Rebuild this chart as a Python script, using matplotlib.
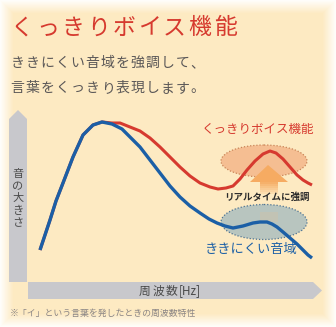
import numpy as np
import matplotlib
matplotlib.use("Agg")
import matplotlib.pyplot as plt
from matplotlib.patches import Polygon, Ellipse, Rectangle

plt.rcParams['font.family'] = ['Noto Sans CJK JP', 'DejaVu Sans']

# curve data (pixel space of the 336x327 picture, y grows downward)
blue_x = [40, 45, 50, 56, 63, 73, 83, 93, 102, 112, 122, 130, 140, 150, 160, 170,
          180, 190, 200, 209, 217, 225, 233, 243, 253, 260, 267, 272, 277, 283,
          290, 297, 303, 308, 312]
blue_y = [250, 235, 220, 201, 183, 157, 135, 125, 122, 124, 129, 137, 147, 160, 173, 186,
          197, 206, 213, 219, 223, 226, 228, 226, 223, 222, 222, 224, 227, 232,
          238, 244, 250, 255, 258]
red_x = [40, 45, 50, 56, 63, 73, 83, 93, 102, 112, 120, 130, 140, 150, 160, 170,
         180, 190, 200, 210, 218, 226, 233, 240, 247, 255, 263, 270, 276, 283,
         290, 297, 303, 308, 312]
red_y = [250, 235, 220, 201, 183, 157, 135, 125, 122, 123, 123, 127, 131, 138, 147, 157,
         167, 176, 183, 187, 189, 188, 186, 179, 170, 161, 154, 151, 153, 159,
         167, 175, 180, 183, 185]

title = "くっきりボイス機能"
subtitle = ["ききにくい音域を強調して、", "言葉をくっきり表現します。"]
ylabel = "音の大きさ"
xlabel = "周波数"
xunit = "[Hz]"
red_label = "くっきりボイス機能"
blue_label = "ききにくい音域"
arrow_label = "リアルタイムに強調"
note = "※「イ」という言葉を発したときの周波数特性"

W, H = 336, 327
fig = plt.figure(figsize=(W / 100, H / 100), dpi=100)
ax = fig.add_axes([0, 0, 1, 1])
ax.set_xlim(0, W)
ax.set_ylim(H, 0)
ax.axis("off")


def spaced(x0, y, s, pitch, **kw):
    # draw one character per cell so the letter spacing matches the picture
    for i, ch in enumerate(s):
        ax.text(x0 + pitch * (i + 0.5), y, ch, ha="center", va="center", **kw)


# cream background fading to white at the edges
cream = np.array([253, 234, 194]) / 255.0
yy, xx = np.mgrid[0:H, 0:W]
d = np.minimum.reduce([xx + 1, W - xx, yy + 1, H - yy]).astype(float)
t = np.clip(d / 14.0, 0, 1)[..., None]
bg = (1 - t) * np.ones(3) + t * cream
ax.imshow(bg, extent=(0, W, H, 0), zorder=0)

# titles
spaced(10, 28, title, 25.3, color="#d63a2f", fontsize=16.5)
spaced(10, 63, subtitle[0], 15.0, color="#5a5757", fontsize=10)
spaced(10, 88, subtitle[1], 15.0, color="#5a5757", fontsize=10)

# axes arrows
gray = "#c8c8cc"
ax.add_patch(Polygon([(9, 282), (9, 119), (18, 110), (27, 119), (27, 282)],
                     closed=True, fc=gray, ec="none", zorder=1))
ax.add_patch(Polygon([(28, 282), (313, 282), (322, 290.5), (313, 299), (28, 299)],
                     closed=True, fc=gray, ec="none", zorder=1))
for i, ch in enumerate(ylabel):
    ax.text(18, 174 + i * 12.2, ch, color="#4a4a4a", fontsize=8, ha="center", va="center")
spaced(138, 291, xlabel, 13.3, color="#4a4a4a", fontsize=8.5)
ax.text(178.5, 291, xunit, color="#4a4a4a", fontsize=8.5, ha="left", va="center")
ax.text(10, 313, note, color="#8a8585", fontsize=6.4, ha="left", va="center")

# highlighted regions
ax.add_patch(Ellipse((264, 161), 86, 32, fc="#f5be92", ec="#c98558", lw=0.9,
                     ls=(0, (1, 1.5)), zorder=2))
ax.add_patch(Ellipse((264, 222), 86, 35, fc="#b8c5bf", ec="#4d7393", lw=0.9,
                     ls=(0, (1, 1.5)), zorder=2))

# upward arrow
ax.add_patch(Polygon([(250, 182), (268, 165), (288, 182)], closed=True,
                     fc="#f6ab62", ec="none", zorder=2))
for k in range(6):
    ax.add_patch(Rectangle((260, 182 + k * 2), 18, 2, fc="#f6ab62",
                           alpha=0.9 - k * 0.14, ec="none", zorder=2))
ax.add_patch(Rectangle((260, 212), 18, 10, fc="#c9c3ad", alpha=0.6, ec="none", zorder=2))
ax.text(267, 197, arrow_label, color="#2b2b2b", fontsize=6.8, fontweight="bold",
        ha="center", va="center", zorder=4)

# curves
ax.plot(red_x, red_y, color="#d63a2f", lw=2.2, solid_capstyle="butt",
        solid_joinstyle="round", zorder=3)
ax.plot(blue_x, blue_y, color="#1b5fa6", lw=2.4, solid_capstyle="butt",
        solid_joinstyle="round", zorder=3)

ax.text(258, 130, red_label, color="#d63a2f", fontsize=9, ha="center", va="center")
ax.text(251, 250, blue_label, color="#1b5fa6", fontsize=9.5, ha="center", va="center")

fig.savefig("out.png", dpi=100)
